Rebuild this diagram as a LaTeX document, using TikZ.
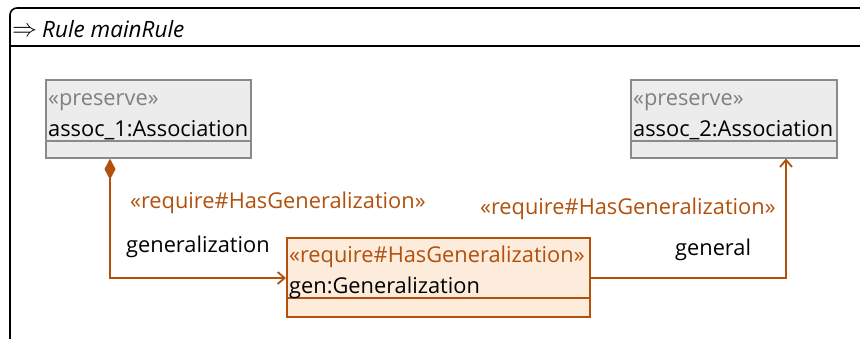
\documentclass[tikz,border=0pt]{standalone}
\usepackage{fontspec}
\setmainfont{Open Sans}
\usetikzlibrary{arrows.meta}
\definecolor{req}{RGB}{178,80,12}
\definecolor{reqfill}{RGB}{253,235,220}
\definecolor{prefill}{RGB}{236,236,236}
\definecolor{prestroke}{RGB}{138,138,138}
\definecolor{pretext}{RGB}{128,128,128}
\begin{document}
\begin{tikzpicture}[x=1pt,y=-1pt,
  txt/.style={anchor=base west,inner sep=0pt,font=\fontsize{21.8}{26}\selectfont},
  graybox/.style={draw=prestroke,fill=prefill,line width=1.6pt,anchor=north west,inner sep=0pt},
  reqbox/.style={draw=req,fill=reqfill,line width=1.6pt,anchor=north west,inner sep=0pt},
  conn/.style={draw=req,line width=1.8pt}
]
\useasboundingbox (0,0) rectangle (860,338);
% frame
\draw[line width=1.6pt,rounded corners=7pt] (10,345) -- (10,8) -- (875,8);
\draw[line width=1.6pt] (10,46) -- (875,46);
\node[txt,font=\fontsize{26}{28}\selectfont] (arr) at (12,36) {$\Rightarrow$};
\node[txt,font=\fontsize{22.5}{26}\itshape] (title) at (42,37) {Rule mainRule};
% assoc_1
\node[graybox,minimum width=205pt,minimum height=78pt] (a1) at (45,79) {};
\draw[prestroke,line width=1.6pt] (45,141) -- (252,141);
\node[txt,text=pretext] (a1s) at (48,105) {«preserve»};
\node[txt] (a1n) at (48,136) {assoc\_1:Association};
% assoc_2
\node[graybox,minimum width=206pt,minimum height=78pt] (a2) at (630,79) {};
\draw[prestroke,line width=1.6pt] (630,141) -- (838,141);
\node[txt,text=pretext] (a2s) at (633,105) {«preserve»};
\node[txt] (a2n) at (633,136) {assoc\_2:Association};
% gen
\node[reqbox,minimum width=303pt,minimum height=79pt] (g) at (286,237) {};
\draw[req,line width=1.6pt] (286,298) -- (591,298);
\node[txt,text=req] (gs) at (289,262) {«require\#HasGeneralization»};
\node[txt] (gn) at (289,293) {gen:Generalization};
% connectors
\coordinate (c1) at (110,278);
\coordinate (c2) at (786,278);
\draw[conn,{Diamond[length=21pt,width=11pt,fill=req]}-{Straight Barb[length=7pt,width=12pt,line width=1.8pt]}]
  (a1.south -| c1) -- (c1) -- (g.west |- c1);
\draw[conn,-{Straight Barb[length=7pt,width=12pt,line width=1.8pt]}]
  (g.east |- c2) -- (c2) -- (a2.south -| c2);
% labels
\node[txt,text=req] (l1) at (130,208) {«require\#HasGeneralization»};
\node[txt] (l2) at (126,252) {generalization};
\node[txt,text=req] (l3) at (480,214) {«require\#HasGeneralization»};
\node[txt] (l4) at (675,255) {general};
\end{tikzpicture}
\end{document}
